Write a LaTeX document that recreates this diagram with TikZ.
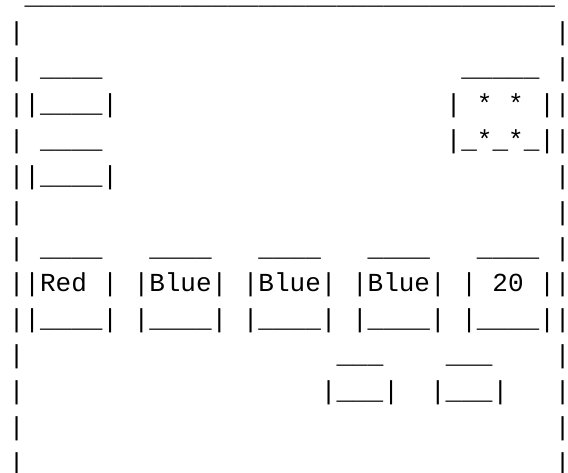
\documentclass[tikz,border=0pt]{standalone}
\usepackage{fontspec}
\newfontfamily\asciifont{Liberation Mono}
\usepackage{tikz}

\newcommand\nus[1]{\foreach\k in {1,...,#1}{\_}}
\newcommand\nsp[1]{\foreach\k in {1,...,#1}{~}}

\begin{document}
\begin{tikzpicture}[
x=0.75pt, y=-0.75pt,
row/.style={anchor=base west, inner sep=0pt, outer sep=0pt, text=black, font=\asciifont\fontsize{19.5pt}{27pt}\selectfont}
]
\useasboundingbox (0,0) rectangle (568,473);
\node[row] (l0) at (8.9,4.8) {\nsp{1}\nus{34}};
\node[row] (l1) at (8.9,40.7) {|\nsp{34}|};
\node[row] (l2) at (8.9,76.6) {|\nsp{1}\nus{4}\nsp{23}\nus{5}\nsp{1}|};
\node[row] (l3) at (8.9,112.5) {||\nus{4}|\nsp{21}|~*~*~||};
\node[row] (l4) at (8.9,148.4) {|\nsp{1}\nus{4}\nsp{22}|\_*\_*\_||};
\node[row] (l5) at (8.9,184.3) {||\nus{4}|\nsp{28}|};
\node[row] (l6) at (8.9,220.2) {|\nsp{34}|};
\node[row] (l7) at (8.9,256.1) {|\nsp{1}\nus{4}\nsp{3}\nus{4}\nsp{3}\nus{4}\nsp{3}\nus{4}\nsp{3}\nus{4}\nsp{1}|};
\node[row] (l8) at (8.9,292) {||Red~|~|Blue|~|Blue|~|Blue|~|~20~||};
\node[row] (l9) at (8.9,327.9) {||\nus{4}|~|\nus{4}|~|\nus{4}|~|\nus{4}|~|\nus{4}||};
\node[row] (l10) at (8.9,363.8) {|\nsp{20}\nus{3}\nsp{4}\nus{3}\nsp{4}|};
\node[row] (l11) at (8.9,399.7) {|\nsp{19}|\nus{3}|\nsp{2}|\nus{3}|\nsp{3}|};
\node[row] (l12) at (8.9,435.6) {|\nsp{34}|};
\node[row] (l13) at (8.9,471.5) {|\nsp{34}|};
\end{tikzpicture}
\end{document}
